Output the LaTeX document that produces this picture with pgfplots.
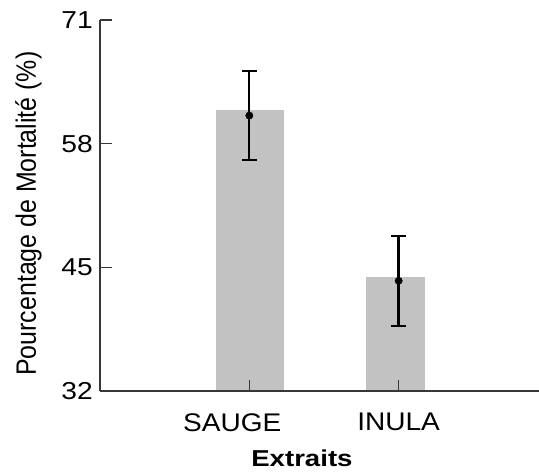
\documentclass[border=0pt]{standalone}
\usepackage{fontspec}
\setmainfont{Liberation Sans}
\newfontfamily\tickfont[FakeStretch=1.15]{Liberation Sans}
\newfontfamily\labfont[FakeStretch=1.1]{Liberation Sans}
\newfontfamily\xlfont[FakeStretch=1.2]{Liberation Sans}
\newfontfamily\yfont[FakeStretch=0.89]{Liberation Sans}
\usepackage{pgfplots}
\pgfplotsset{compat=1.18}
\usetikzlibrary{calc}
\definecolor{bargray}{RGB}{194,194,194}
\definecolor{axgray}{RGB}{55,55,55}
\begin{document}
\begin{tikzpicture}
\begin{axis}[
  scale only axis, width=439pt, height=371pt,
  xmin=0, xmax=2.94, ymin=32, ymax=71,
  axis lines*=left,
  axis on top,
  axis line style={axgray, line width=1.4pt},
  ytick={32,45,58,71},
  xtick={1,2},
  xticklabels={{SAUGE\hspace*{34pt}},{INULA}},
  tick align=inside,
  major tick length=11.5pt,
  tick style={axgray, line width=1.4pt},
  /pgf/number format/assume math mode=true,
  yticklabel style={font=\fontsize{24.5}{26}\tickfont, inner sep=0pt, xshift=-7pt},
  xticklabel style={font=\fontsize{25.5}{27}\labfont, inner sep=0pt, yshift=-22pt},
  xlabel={Extraits},
  xlabel style={at={(axis description cs:0.46,-0.157)}, anchor=north, inner sep=0pt, font=\fontsize{23}{25}\xlfont\bfseries},
  ylabel={Pourcentage de Mortalité (\%)},
  ylabel style={at={(axis description cs:-0.1321,0.478)}, anchor=south, inner sep=0pt, font=\fontsize{28}{30}\yfont},
]
\addplot[ybar, bar width=0.453, bar shift=1pt, fill=bargray, draw=none] coordinates {(1,61.54)};
\addplot[ybar, bar width=0.397, bar shift=-3pt, fill=bargray, draw=none] coordinates {(2,43.95)};
% error bars: mean +- error (SAUGE 60.95 +- 4.67, INULA 43.58 +- 4.75)
\addplot[black, line width=2.3pt, mark=none] coordinates {(1,56.28) (1,65.62)};
\addplot[black, line width=2.3pt, mark=none] coordinates {(2,38.83) (2,48.33)};
\addplot[only marks, mark=-, mark size=7.5pt, mark options={line width=2.3pt, black}]
  coordinates {(1,56.28) (1,65.62) (2,38.83) (2,48.33)};
\addplot[only marks, mark=*, mark size=3.7pt, black]
  coordinates {(1,60.95) (2,43.58)};
\end{axis}
\pgfresetboundingbox
\path[use as bounding box] ($(current axis.south west)+(-100pt,-81pt)$) rectangle ($(current axis.north east)+(0pt,20pt)$);
\end{tikzpicture}
\end{document}
